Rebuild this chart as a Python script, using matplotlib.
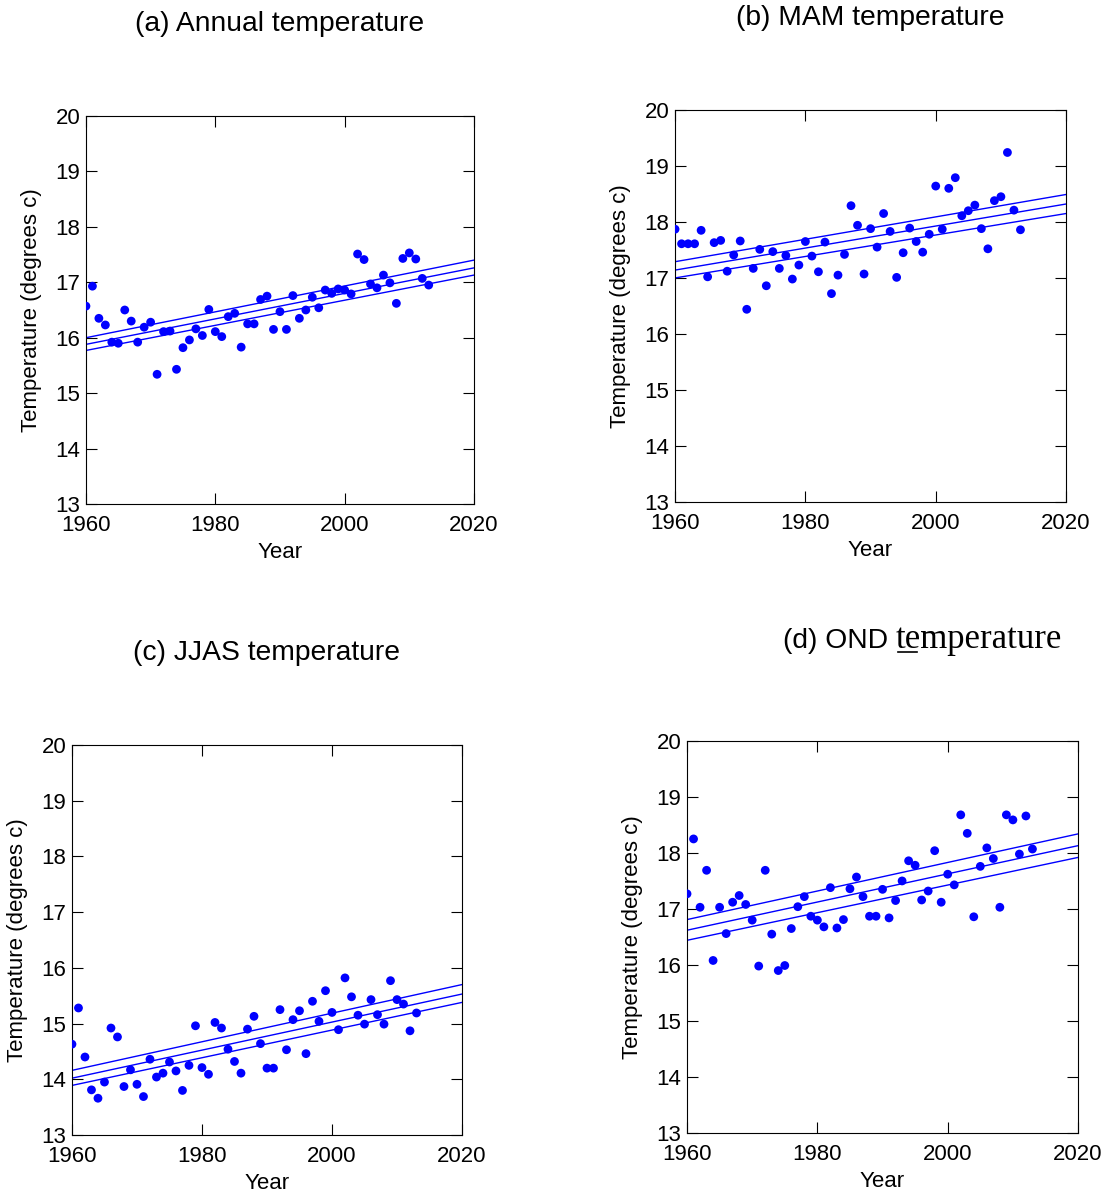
import matplotlib
matplotlib.use('Agg')
import matplotlib.pyplot as plt
from matplotlib.lines import Line2D
import numpy as np

plt.rcParams['font.family'] = ['Liberation Sans', 'DejaVu Sans']

years = list(range(1960, 2014))

annual_temp = [16.57, 16.93, 16.35, 16.23, 15.92, 15.90, 16.50, 16.30, 15.92, 16.19,
               16.28, 15.34, 16.11, 16.12, 15.43, 15.82, 15.96, 16.16, 16.04, 16.51,
               16.11, 16.02, 16.38, 16.44, 15.83, 16.25, 16.25, 16.69, 16.75, 16.15,
               16.47, 16.15, 16.76, 16.35, 16.50, 16.73, 16.54, 16.86, 16.80, 16.88,
               16.86, 16.79, 17.51, 17.41, 16.97, 16.90, 17.13, 16.99, 16.62, 17.43,
               17.53, 17.42, 17.07, 16.95]

mam_temp = [17.87, 17.61, 17.61, 17.61, 17.85, 17.02, 17.63, 17.67, 17.12, 17.41,
            17.66, 16.44, 17.17, 17.51, 16.86, 17.47, 17.17, 17.40, 16.98, 17.23,
            17.65, 17.39, 17.11, 17.64, 16.72, 17.05, 17.42, 18.29, 17.94, 17.07,
            17.88, 17.55, 18.15, 17.83, 17.01, 17.45, 17.89, 17.65, 17.46, 17.78,
            18.64, 17.87, 18.60, 18.79, 18.11, 18.20, 18.30, 17.88, 17.52, 18.38,
            18.45, 19.24, 18.21, 17.86]

jjas_temp = [14.63, 15.28, 14.40, 13.81, 13.66, 13.95, 14.92, 14.76, 13.87, 14.17,
             13.91, 13.69, 14.36, 14.04, 14.11, 14.31, 14.15, 13.80, 14.25, 14.96,
             14.21, 14.09, 15.02, 14.92, 14.54, 14.32, 14.11, 14.90, 15.13, 14.64,
             14.20, 14.20, 15.25, 14.53, 15.07, 15.23, 14.46, 15.40, 15.04, 15.59,
             15.20, 14.89, 15.82, 15.48, 15.15, 14.99, 15.43, 15.16, 14.99, 15.77,
             15.43, 15.35, 14.87, 15.19]

ond_temp = [17.27, 18.25, 17.03, 17.69, 16.08, 17.03, 16.56, 17.12, 17.24, 17.08,
            16.80, 15.98, 17.69, 16.55, 15.90, 15.99, 16.65, 17.04, 17.22, 16.87,
            16.80, 16.68, 17.38, 16.66, 16.81, 17.36, 17.57, 17.22, 16.87, 16.87,
            17.35, 16.84, 17.15, 17.50, 17.86, 17.78, 17.16, 17.32, 18.04, 17.12,
            17.62, 17.43, 18.68, 18.35, 16.86, 17.76, 18.09, 17.90, 17.03, 18.68,
            18.59, 17.98, 18.66, 18.07]

# trend line and bounds at the two ends of the axis
fit_years = [1960, 2020]
annual_fit = {'upper': [16.00, 17.40], 'mid': [15.88, 17.26], 'lower': [15.77, 17.13]}
mam_fit = {'upper': [17.29, 18.49], 'mid': [17.14, 18.32], 'lower': [17.00, 18.15]}
jjas_fit = {'upper': [14.16, 15.70], 'mid': [14.02, 15.53], 'lower': [13.89, 15.38]}
ond_fit = {'upper': [16.81, 18.34], 'mid': [16.62, 18.13], 'lower': [16.44, 17.92]}


def plot_panel(ax, temps, fit, title):
    ax.scatter(years, temps, s=40, color='#0000ff', edgecolors='none', zorder=3)
    for key in ['upper', 'mid', 'lower']:
        ax.plot(fit_years, fit[key], color='#0000ff', linewidth=1.0)
    ax.set_xlim(1960, 2020)
    ax.set_ylim(13, 20)
    ax.set_xticks([1960, 1980, 2000, 2020])
    ax.set_yticks(range(13, 21))
    ax.tick_params(direction='in', top=True, right=True, length=8, width=0.8,
                   labelsize=16)
    ax.tick_params(axis='x', pad=8)
    ax.tick_params(axis='y', pad=4)
    ax.set_xlabel('Year', fontsize=16, labelpad=4)
    ax.set_ylabel('Temperature (degrees c)', fontsize=16, labelpad=10)
    for sp in ax.spines.values():
        sp.set_linewidth(0.8)
    if title:
        ax.set_title(title, fontsize=20.3, pad=61)


fig = plt.figure(figsize=(11.09, 11.96), dpi=100)
ax_a = fig.add_axes([0.0775, 0.5786, 0.3499, 0.3244])
ax_b = fig.add_axes([0.6087, 0.5803, 0.3526, 0.3278])
ax_c = fig.add_axes([0.0649, 0.0510, 0.3517, 0.3261])
ax_d = fig.add_axes([0.6195, 0.0527, 0.3526, 0.3278])

plot_panel(ax_a, annual_temp, annual_fit, '(a) Annual temperature')
plot_panel(ax_b, mam_temp, mam_fit, '(b) MAM temperature')
plot_panel(ax_c, jjas_temp, jjas_fit, '(c) JJAS temperature')
plot_panel(ax_d, ond_temp, ond_fit, None)

# (d) title is mixed fonts in the original
fig.text(783 / 1109, 1 - 648 / 1196, '(d) OND', fontsize=20.3, ha='left', va='baseline')
fig.text(896 / 1109, 1 - 648 / 1196, 'temperature', fontsize=25,
         family=['Liberation Serif', 'DejaVu Serif'], ha='left', va='baseline')
fig.add_artist(Line2D([898 / 1109, 917 / 1109], [1 - 652 / 1196, 1 - 652 / 1196],
                      color='black', linewidth=1.2))

plt.savefig('out.png', dpi=100)
plt.close()
